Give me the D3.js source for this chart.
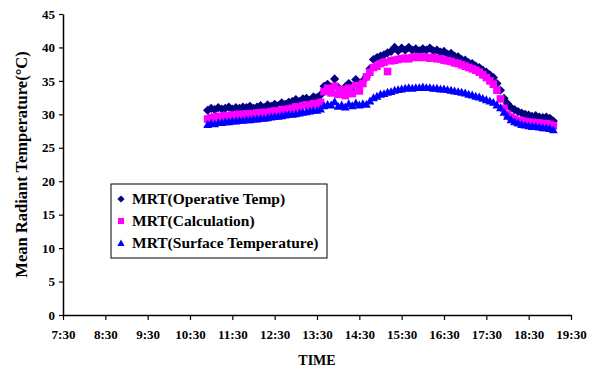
<!DOCTYPE html>
<html>
<head>
<meta charset="utf-8">
<script src="https://cdn.jsdelivr.net/npm/d3@7"></script>
<style>
  body { margin: 0; background: #fff; }
  svg { display: block; font-family: "Liberation Serif", "Times New Roman", serif; font-weight: bold; }
</style>
</head>
<body>
<svg id="chart"></svg>
<script>
// sampling: one reading every 5 minutes from 10:55
const startTime = "10:55";
const stepMinutes = 5;

const xTickLabels = ["7:30", "8:30", "9:30", "10:30", "11:30", "12:30", "13:30",
  "14:30", "15:30", "16:30", "17:30", "18:30", "19:30"];
const yTickValues = [0, 5, 10, 15, 20, 25, 30, 35, 40, 45];

const operativeTemp = [
  30.6, 30.9, 30.7, 31.0, 30.8, 30.9, 31.1, 30.8, 31.0, 30.9, 31.1, 31.0,
  31.2, 30.9, 31.1, 31.3, 31.0, 31.4, 31.2, 31.5, 31.3, 31.7, 31.5, 31.8,
  31.9, 32.2, 31.9, 32.3, 32.4, 32.1, 32.6, 32.5, 32.9, 34.2, 34.5, 34.0,
  35.3, 34.0, 33.6, 34.1, 34.6, 34.0, 35.2, 34.4, 35.0, 35.6, 36.8, 38.2,
  38.5, 38.7, 38.9, 39.2, 39.4, 40.0, 39.5, 39.9, 39.6, 40.0, 39.6, 39.8,
  39.5, 39.8, 39.6, 39.9, 39.5, 39.6, 39.3, 39.4, 39.0, 39.1, 38.7, 38.6,
  38.2, 38.1, 37.7, 37.6, 37.2, 37.0, 36.6, 36.3, 35.9, 35.5, 34.6, 33.6,
  32.4, 31.6, 31.0, 30.7, 30.4, 30.2, 30.0, 29.9, 29.7, 29.8, 29.6, 29.5,
  29.6, 29.4, 29.0
];

const calculation = [
  29.3, 29.5, 29.6, 29.7, 29.6, 29.8, 29.7, 29.9, 29.8, 30.0, 29.9, 30.0,
  30.1, 30.0, 30.2, 30.1, 30.3, 30.2, 30.4, 30.5, 30.4, 30.7, 30.6, 30.8,
  30.9, 31.1, 31.0, 31.3, 31.4, 31.3, 31.6, 31.5, 31.8, 33.4, 33.9, 33.2,
  34.2, 33.0, 33.7, 32.8, 33.9, 33.1, 34.3, 33.5, 34.6, 35.6, 36.3, 37.0,
  37.2, 37.6, 37.8, 36.4, 38.0, 38.1, 38.2, 38.3, 38.4, 38.3, 38.5, 38.6,
  38.5, 38.6, 38.5, 38.4, 38.5, 38.3, 38.3, 38.1, 38.0, 37.9, 37.7, 37.6,
  37.4, 37.2, 37.0, 36.8, 36.6, 36.3, 35.9, 35.5, 35.0, 34.5, 33.6, 32.3,
  30.9, 30.0, 29.6, 29.3, 29.1, 29.0, 28.9, 28.8, 28.8, 28.7, 28.7, 28.6,
  28.6, 28.5, 28.3
];

const surfaceTemp = [
  28.5, 28.7, 28.6, 28.8, 28.8, 28.9, 28.9, 29.0, 29.0, 29.1, 29.1, 29.2,
  29.2, 29.3, 29.3, 29.4, 29.4, 29.5, 29.6, 29.7, 29.7, 29.8, 29.9, 30.0,
  30.0, 30.1, 30.2, 30.3, 30.4, 30.5, 30.6, 30.6, 30.8, 31.3, 31.5, 31.4,
  31.9, 31.2, 31.4, 31.1, 31.6, 31.3, 31.7, 31.4, 31.6, 31.5, 32.0, 32.5,
  32.7, 33.0, 33.1, 33.3, 33.4, 33.6, 33.7, 33.8, 33.9, 34.0, 33.9, 34.0,
  34.0, 34.1, 34.0, 34.0, 33.9, 33.9, 33.8, 33.8, 33.7, 33.6, 33.5, 33.4,
  33.3, 33.2, 33.0, 32.9, 32.7, 32.6, 32.4, 32.2, 32.0, 31.8, 31.4, 31.0,
  30.3, 29.7, 29.2, 28.9, 28.7, 28.5, 28.4, 28.3, 28.2, 28.2, 28.1, 28.0,
  28.0, 27.9, 27.7
];

const seriesNames = ["MRT(Operative Temp)", "MRT(Calculation)", "MRT(Surface Temperature)"];

const width = 598, height = 372;
const margin = { top: 14, right: 27, bottom: 57, left: 63 };

const toMin = s => { const [h, m] = s.split(":").map(Number); return h * 60 + m; };
const fmt = m => `${Math.floor(m / 60)}:${String(m % 60).padStart(2, "0")}`;

// Excel-like marker shapes (r = half size in px)
const diamond = r => `M0,${-r}L${r},0L0,${r}L${-r},0Z`;
const square = r => `M${-r},${-r}H${r}V${r}H${-r}Z`;
const triangle = r => `M0,${-r}L${r},${r * 0.8}H${-r}Z`;

const svg = d3.select("#chart").attr("width", width).attr("height", height);

const x = d3.scaleLinear()
  .domain([toMin(xTickLabels[0]), toMin(xTickLabels[xTickLabels.length - 1])])
  .range([margin.left, width - margin.right]);
const y = d3.scaleLinear()
  .domain([0, 45])
  .range([height - margin.bottom, margin.top]);

const t0 = toMin(startTime);
const series = [
  { name: seriesNames[0], values: operativeTemp, color: "#000080", shape: diamond(4.6), key: diamond(3.6) },
  { name: seriesNames[1], values: calculation, color: "#ff00ff", shape: square(3.8), key: square(3) },
  { name: seriesNames[2], values: surfaceTemp, color: "#0000ff", shape: triangle(4.4), key: triangle(3.6) }
];

// markers, series in order so the surface series sits on top
series.forEach(s => {
  svg.append("g").selectAll("path")
    .data(s.values)
    .enter().append("path")
    .attr("d", s.shape)
    .attr("transform", (d, i) => `translate(${x(t0 + i * stepMinutes)},${y(d)})`)
    .attr("fill", s.color);
});

// axes
const yAxis = d3.axisLeft(y).tickValues(yTickValues).tickSize(4).tickSizeOuter(0).tickPadding(4);
const gy = svg.append("g")
  .attr("transform", `translate(${margin.left},0)`)
  .call(yAxis);

const xAxis = d3.axisBottom(x).tickValues(xTickLabels.map(toMin)).tickFormat(fmt)
  .tickSize(5).tickSizeOuter(0).tickPadding(10);
const gx = svg.append("g")
  .attr("transform", `translate(0,${height - margin.bottom})`)
  .call(xAxis);

[gx, gy].forEach(g => {
  g.select(".domain").attr("stroke", "#000").attr("stroke-width", 1.5);
  g.selectAll(".tick line").attr("stroke", "#000").attr("stroke-width", 1.2);
  g.selectAll("text")
    .attr("fill", "#000")
    .style("font-family", "'Liberation Serif', serif")
    .style("font-weight", "bold")
    .style("font-size", "13px");
});

// axis titles
svg.append("text")
  .attr("x", (margin.left + width - margin.right) / 2)
  .attr("y", 365)
  .attr("text-anchor", "middle")
  .style("font-size", "14px")
  .text("TIME");

svg.append("text")
  .attr("transform", `translate(27,${(margin.top + height - margin.bottom) / 2}) rotate(-90)`)
  .attr("text-anchor", "middle")
  .style("font-size", "16.5px")
  .text("Mean Radiant Temperature(°C)");

// legend
const legend = svg.append("g").attr("transform", "translate(111,184)");
legend.append("rect")
  .attr("width", 216).attr("height", 74)
  .attr("fill", "#fff").attr("stroke", "#000").attr("stroke-width", 1);
series.forEach((s, i) => {
  const row = legend.append("g").attr("transform", `translate(0,${15 + i * 22})`);
  row.append("path")
    .attr("d", s.key)
    .attr("transform", "translate(10,0)")
    .attr("fill", s.color);
  row.append("text")
    .attr("x", 21).attr("y", 5)
    .style("font-size", "15.5px")
    .text(s.name);
});
</script>
</body>
</html>
